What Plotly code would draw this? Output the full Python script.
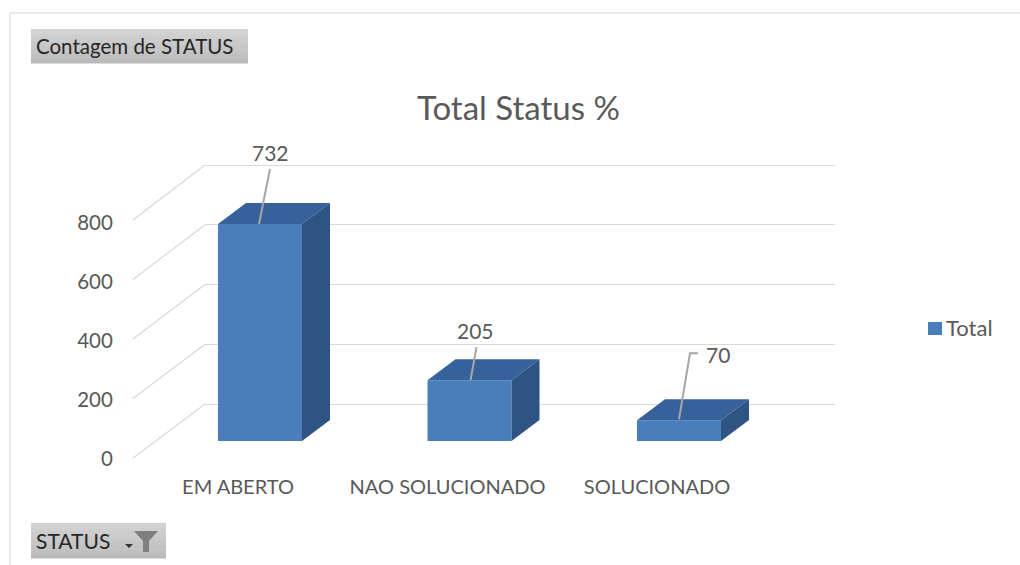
import plotly.graph_objects as go

# ---- data ----
categories = ["EM ABERTO", "NAO SOLUCIONADO", "SOLUCIONADO"]
values = [732, 205, 70]
series_name = "Total"
y_ticks = [0, 200, 400, 600, 800]
title_text = "Total Status %"
top_button = "Contagem de STATUS"
filter_button = "STATUS"

# ---- geometry of the oblique view, in screen pixels ----
W, H = 1020, 565
H_PLOT = 565          # height the paper coordinates span when rendered
FONT = "Lato"
TXT = "#595959"
FRONT, TOP, SIDE = "#4A7EBB", "#37619B", "#2F5484"
GRID = "#D9D9D9"
AX_L, AX_R, PL_T, PL_B = 130, 835, 140, 464
BACK_L = 205
SLOT = 209.5          # px per category
C0 = 260              # px of first bar centre
BAR_W = 84
BASE = 441            # px of bars' zero line
K_BAR = 0.2965        # px per unit at bar plane
K_FRONT = 0.295       # px per unit at front edge (labels)
K_BACK = 0.29875      # px per unit on back wall
BACK_ZERO = 404
LABEL_ZERO = 458.5    # px where the value-label axis has its zero
CAT_LABEL_LEN = 5     # px from plot bottom to category labels
DX, DY = 28, 21       # bar depth


def fx(px):
    return px / W


def fy(py):
    return 1 - py / H_PLOT


def band(x0, y0, x1, y1, **kw):
    return dict(type="rect", xref="paper", yref="paper", x0=fx(x0), x1=fx(x1),
                y0=fy(y0), y1=fy(y1), layer="below", **kw)


xu = 1 / SLOT
yu = 1 / K_BAR
idx = list(range(len(categories)))

fig = go.Figure()
# back wall grid (main subplot so it is painted first)
fig.add_trace(go.Scatter(x=[0], y=[0], xaxis="x", yaxis="y", mode="markers",
                         marker=dict(opacity=0), showlegend=False, hoverinfo="skip"))
# value labels axis
fig.add_trace(go.Scatter(x=[0], y=[0], xaxis="x2", yaxis="y3", mode="markers",
                         marker=dict(opacity=0), showlegend=False, hoverinfo="skip"))
# front faces
fig.add_trace(go.Bar(x=idx, y=values, name=series_name, width=BAR_W * xu, showlegend=False,
                     xaxis="x2", yaxis="y2", marker=dict(color=FRONT, line=dict(width=0))))

shapes = []
# chart frame
shapes.append(dict(type="line", xref="paper", yref="paper", x0=fx(10), x1=fx(1020), y0=fy(13), y1=fy(13),
                   line=dict(color="#E3E3E3", width=1.5), layer="below"))
shapes.append(dict(type="line", xref="paper", yref="paper", x0=fx(10), x1=fx(10), y0=fy(13), y1=fy(565),
                   line=dict(color="#E3E3E3", width=1.5), layer="below"))

# side wall diagonals
for v in y_ticks:
    back_px = BACK_ZERO - v * K_BACK
    front_px = 458 - v * 0.2975
    shapes.append(dict(type="line", xref="paper", yref="paper", x0=fx(133), y0=fy(front_px),
                       x1=fx(BACK_L), y1=fy(back_px), line=dict(color=GRID, width=1.2), layer="below"))

# depth faces computed from the values
hw = BAR_W * xu / 2
ddx, ddy = DX * xu, DY * yu
for i, v in zip(idx, values):
    shapes.append(dict(type="path", xref="x2", yref="y2", layer="above", line=dict(width=0), fillcolor=TOP,
                       path=f"M{i-hw},{v} L{i+hw},{v} L{i+hw+ddx},{v+ddy} L{i-hw+ddx},{v+ddy} Z"))
    shapes.append(dict(type="path", xref="x2", yref="y2", layer="above", line=dict(width=0), fillcolor=SIDE,
                       path=f"M{i+hw},{0} L{i+hw},{v} L{i+hw+ddx},{v+ddy} L{i+hw+ddx},{ddy} Z"))

# leader lines and value labels, as offsets (px) from the bar's top front centre
leaders = [[(-1, 0), (10, -55)], [(1, 0), (7, -33)], [(0, -1), (11, -67), (19, -67)]]
label_off = [(10, -71), (6, -50), (39, -66)]
annotations = []
for i, v, pts, off in zip(idx, values, leaders, label_off):
    p = " L".join(f"{i + a * xu},{v - b * yu}" for a, b in pts)
    shapes.append(dict(type="path", xref="x2", yref="y2", layer="above",
                       path="M" + p, line=dict(color="#A6A6A6", width=2)))
    annotations.append(dict(xref="x2", yref="y2", x=i + off[0] * xu, y=v - off[1] * yu, text=str(v),
                            showarrow=False, font=dict(family=FONT, size=21, color=TXT),
                            xanchor="center", yanchor="middle"))

# title
annotations.append(dict(xref="paper", yref="paper", x=fx(518), y=fy(107), text=title_text, showarrow=False,
                        font=dict(family=FONT, size=33, color=TXT), xanchor="center", yanchor="middle"))

# legend key and name
shapes.append(band(928, 322, 942, 335, fillcolor=FRONT, line=dict(width=0)))
annotations.append(dict(xref="paper", yref="paper", x=fx(944), y=fy(327), text=series_name, showarrow=False,
                        font=dict(family=FONT, size=22, color=TXT), xanchor="left", yanchor="middle"))

# pivot buttons
for (x0, y0, x1, y1) in [(31, 29, 248, 63), (31, 523, 166, 558)]:
    n = 8
    for k in range(n):
        g = 210 - k * 3 if k < n - 1 else 186
        c = f"rgb({g},{g},{g})"
        h = (y1 - y0) / n
        shapes.append(band(x0, y0 + k * h, x1, y0 + (k + 1) * h + 0.5, fillcolor=c, line=dict(width=0)))
annotations.append(dict(xref="paper", yref="paper", x=fx(34), y=fy(46), text=top_button, showarrow=False,
                        font=dict(family=FONT, size=20.5, color="#262626"), xanchor="left", yanchor="middle"))
annotations.append(dict(xref="paper", yref="paper", x=fx(34), y=fy(540), text=filter_button, showarrow=False,
                        font=dict(family=FONT, size=21, color="#262626"), xanchor="left", yanchor="middle"))
# filter funnel and dropdown tick
funnel = [(134, 531), (158, 531), (149, 541), (149, 552), (143, 552), (143, 541)]
shapes.append(dict(type="path", xref="paper", yref="paper", layer="above", fillcolor="#7F7F7F", line=dict(width=0),
                   path="M" + " L".join(f"{fx(a)},{fy(b)}" for a, b in funnel) + " Z"))
shapes.append(dict(type="path", xref="paper", yref="paper", layer="above", fillcolor="#333333", line=dict(width=0),
                   path=f"M{fx(125)},{fy(544)} L{fx(133)},{fy(544)} L{fx(129)},{fy(548)} Z"))

dom_y = [fy(PL_B), fy(PL_T)]
fig.update_layout(
    width=W, height=H, autosize=False,
    margin=dict(l=0, r=0, t=0, b=0),
    paper_bgcolor="white", plot_bgcolor="rgba(0,0,0,0)",
    showlegend=False,
    font=dict(family=FONT),
    shapes=shapes, annotations=annotations,
    # back wall
    xaxis=dict(domain=[fx(BACK_L), fx(AX_R)], range=[0, 1], showticklabels=False, showgrid=False,
               zeroline=False, ticks="", automargin=False),
    yaxis=dict(domain=dom_y, anchor="x",
               range=[(BACK_ZERO - PL_B) / K_BACK, (BACK_ZERO - PL_T) / K_BACK],
               tickvals=y_ticks, showticklabels=False, showgrid=True, gridcolor=GRID, gridwidth=1.2,
               zeroline=False, ticks="", automargin=False),
    # bars
    xaxis2=dict(domain=[fx(AX_L), fx(AX_R)], anchor="y2",
                range=[(AX_L - C0) * xu, (AX_R - C0) * xu],
                tickvals=[i - 22 * xu for i in idx], ticktext=categories, showgrid=False, zeroline=False,
                showline=False, ticks="outside", ticklen=CAT_LABEL_LEN, tickcolor="rgba(0,0,0,0)",
                tickfont=dict(family=FONT, size=20, color=TXT), automargin=False),
    yaxis2=dict(domain=dom_y, anchor="x2",
                range=[(BASE - PL_B) * yu, (BASE - PL_T) * yu],
                showticklabels=False, showgrid=False, zeroline=False, ticks="", automargin=False),
    # value tick labels
    yaxis3=dict(overlaying="y2", anchor="x2", side="left",
                range=[(LABEL_ZERO - PL_B) / K_FRONT, (LABEL_ZERO - PL_T) / K_FRONT],
                tickvals=y_ticks, showgrid=False, zeroline=False, showline=False,
                ticks="outside", ticklen=12, tickcolor="rgba(0,0,0,0)",
                tickfont=dict(family=FONT, size=20.5, color=TXT), automargin=False),
)

fig.write_html("out.html", config={"displayModeBar": False, "responsive": False},
               default_width="1020px", default_height="565px",
               post_script="document.body.style.margin='0';document.documentElement.style.overflow='hidden';")
